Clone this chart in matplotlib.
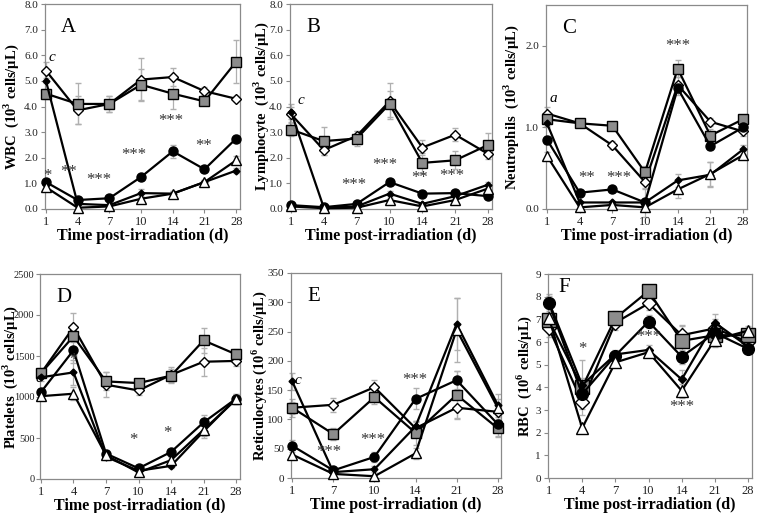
#%% import packages
import numpy as np
import matplotlib
matplotlib.use('Agg')
import matplotlib.pyplot as plt
from matplotlib.ticker import FormatStrFormatter

plt.rcParams['font.family'] = 'Liberation Serif'
plt.rcParams['mathtext.fontset'] = 'custom'
plt.rcParams['mathtext.rm'] = 'Liberation Serif'
plt.rcParams['mathtext.bf'] = 'Liberation Serif:bold'

#%% data
days_7 = ['1', '4', '7', '10', '14', '21', '28']
days_6 = ['1', '7', '10', '14', '21', '28']

# WBC
wbc_odia = [5.4, 3.85, 4.1, 5.05, 5.15, 4.6, 4.3]
wbc_sq = [4.5, 4.1, 4.1, 4.85, 4.5, 4.2, 5.75]
wbc_circ = [1.05, 0.35, 0.42, 1.25, 2.25, 1.55, 2.75]
wbc_bdia = [5.0, 0.2, 0.15, 0.62, 0.6, 1.05, 1.5]
wbc_tri = [0.85, 0.05, 0.1, 0.4, 0.6, 1.05, 1.9]
wbc_err = [[0.35, 0.55, 0.3, 0.85, 0.35, 0.15, 0.1],
           [0.2, 0.8, 0.3, 0.6, 0.6, 0.15, 0.85],
           [0.1, 0.05, 0.05, 0.1, 0.25, 0.1, 0.15],
           [0.1, 0.05, 0.05, 0.15, 0.1, 0.1, 0.1],
           [0.1, 0.03, 0.03, 0.1, 0.1, 0.1, 0.15]]

# Lymphocyte
lym_odia = [3.7, 2.3, 2.85, 4.2, 2.4, 2.9, 2.15]
lym_sq = [3.1, 2.65, 2.75, 4.1, 1.8, 1.9, 2.5]
lym_circ = [0.15, 0.07, 0.2, 1.05, 0.6, 0.62, 0.5]
lym_bdia = [3.8, 0.05, 0.1, 0.6, 0.2, 0.5, 0.95]
lym_tri = [0.1, 0.03, 0.05, 0.35, 0.1, 0.35, 0.8]
lym_err = [[0.3, 0.2, 0.2, 0.7, 0.3, 0.25, 0.2],
           [0.25, 0.55, 0.3, 0.5, 0.4, 0.35, 0.45],
           [0.05, 0.03, 0.05, 0.1, 0.08, 0.08, 0.08],
           [0.3, 0.03, 0.05, 0.1, 0.05, 0.1, 0.1],
           [0.03, 0.02, 0.03, 0.08, 0.05, 0.08, 0.1]]

# Neutrophils
neu_odia = [1.17, 1.05, 0.78, 0.33, 1.52, 1.07, 0.95]
neu_sq = [1.1, 1.05, 1.02, 0.45, 1.72, 0.9, 1.1]
neu_circ = [0.85, 0.2, 0.24, 0.08, 1.48, 0.77, 1.0]
neu_bdia = [1.05, 0.08, 0.08, 0.08, 0.35, 0.42, 0.73]
neu_tri = [0.65, 0.02, 0.05, 0.02, 0.24, 0.43, 0.66]
neu_err = [[0.08, 0.05, 0.05, 0.08, 0.1, 0.05, 0.05],
           [0.08, 0.05, 0.05, 0.08, 0.1, 0.08, 0.05],
           [0.05, 0.03, 0.03, 0.03, 0.08, 0.05, 0.05],
           [0.05, 0.02, 0.02, 0.18, 0.08, 0.15, 0.05],
           [0.05, 0.02, 0.02, 0.02, 0.1, 0.15, 0.05]]

# Platelets
plt_odia = [1290, 1850, 1150, 1080, 1270, 1430, 1440]
plt_sq = [1290, 1740, 1190, 1170, 1260, 1690, 1520]
plt_circ = [1060, 1570, 310, 130, 330, 690, 980]
plt_bdia = [1240, 1300, 270, 100, 160, 580, 980]
plt_tri = [1010, 1040, 290, 80, 230, 600, 970]
plt_err = [[60, 180, 150, 60, 100, 170, 60],
           [50, 60, 110, 50, 80, 150, 60],
           [40, 160, 40, 30, 40, 90, 60],
           [40, 150, 40, 30, 30, 80, 60],
           [40, 80, 40, 20, 40, 70, 60]]

# Reticulocytes
ret_odia = [120, 125, 155, 85, 120, 113]
ret_sq = [120, 75, 138, 77, 142, 85]
ret_circ = [55, 13, 36, 135, 167, 92]
ret_bdia = [165, 10, 15, 88, 263, 125]
ret_tri = [40, 7, 3, 42, 253, 120]
ret_err = [[10, 12, 12, 10, 20, 15],
           [15, 10, 12, 20, 40, 15],
           [10, 5, 8, 18, 15, 20],
           [15, 3, 5, 10, 45, 18],
           [8, 3, 2, 10, 55, 15]]

# RBC
rbc_odia = [6.6, 3.35, 6.85, 7.7, 6.3, 6.6, 6.0]
rbc_sq = [6.95, 4.0, 7.05, 8.25, 6.05, 6.3, 6.3]
rbc_circ = [7.7, 3.7, 5.4, 6.9, 5.35, 6.4, 5.7]
rbc_bdia = [7.75, 4.1, 5.45, 5.65, 4.35, 6.85, 5.8]
rbc_tri = [7.05, 2.2, 5.1, 5.55, 3.85, 6.1, 6.5]
rbc_err = [[0.4, 0.3, 0.3, 0.3, 0.4, 0.4, 0.2],
           [0.3, 1.2, 0.3, 0.2, 0.7, 0.4, 0.3],
           [0.4, 0.3, 0.2, 0.3, 0.3, 0.3, 0.2],
           [0.3, 0.3, 0.2, 0.2, 0.4, 0.4, 0.2],
           [0.3, 0.2, 0.2, 0.2, 0.3, 0.3, 0.2]]

#%% styles: open diamond, gray square, black circle, black diamond, open triangle
styles = [dict(marker='D', mfc='white', ms=5.5),
          dict(marker='s', mfc='#8c8c8c', ms=7.5),
          dict(marker='o', mfc='black', ms=6.5),
          dict(marker='D', mfc='black', ms=3.5),
          dict(marker='^', mfc='white', ms=7)]


def px_axes(fig, l, r, t, b):
    W, H = 758., 513.
    return fig.add_axes([l / W, 1 - b / H, (r - l) / W, (b - t) / H])


def panel(ax, days, series, errs, ylim, ystep, fmt, ylabel, letter, labx,
          msc=1.0, ysize=8, ypad=2):
    x = np.arange(len(days))
    for s, e, st in zip(series, errs, styles):
        ax.errorbar(x, s, yerr=e, fmt='none', ecolor='#b0b0b0', elinewidth=0.9,
                    capsize=2, zorder=1, clip_on=False)
    for s, st in zip(series, styles):
        ax.plot(x, s, color='black', lw=1.6, marker=st['marker'], mfc=st['mfc'],
                mec='black', mew=1.0, ms=st['ms'] * msc, zorder=3, clip_on=False)
    ax.set_xlim(-0.03, len(days) - 1 + 0.12)
    ax.set_ylim(ylim)
    ax.set_yticks(np.arange(ylim[0], ylim[1] + ystep / 2, ystep))
    ax.yaxis.set_major_formatter(FormatStrFormatter(fmt))
    ax.set_xticks(x)
    ax.set_xticklabels(days)
    for sp in ax.spines.values():
        sp.set_color('#8a8a8a')
        sp.set_linewidth(0.9)
    ax.tick_params(axis='both', color='#8a8a8a', length=3,
                   width=0.8, pad=2, labelcolor='#222222')
    ax.tick_params(axis='y', labelsize=ysize, pad=ypad)
    ax.tick_params(axis='x', labelsize=9)
    ax.set_xlabel('Time post-irradiation (d)', fontsize=11.5, fontweight='bold',
                  labelpad=0)
    ax.set_ylabel(ylabel, fontsize=10.5, fontweight='bold')
    ax.yaxis.set_label_coords(labx, 0.5)
    ax.text(0.08, 0.93, letter, transform=ax.transAxes, fontsize=15,
            va='top', ha='left')


def star(ax, x, y, s, size=12):
    ax.text(x, y, s, fontsize=size, color='#333333', ha='center', va='center')


def italic(ax, x, y, s):
    ax.text(x, y, s, fontsize=11, style='italic', ha='center', va='center')


#%% figure
fig = plt.figure(figsize=(7.58, 5.13), dpi=100)

axA = px_axes(fig, 45, 240, 4, 209)
panel(axA, days_7, [wbc_odia, wbc_sq, wbc_circ, wbc_bdia, wbc_tri], wbc_err,
      (0, 8), 1.0, '%.1f', r'WBC  (10$^{\mathbf{3}}$ cells/μL)', 'A', -0.125)
italic(axA, 0.2, 5.9, 'c')
star(axA, 0.05, 1.3, '*')
star(axA, 0.7, 1.45, '**')
star(axA, 1.67, 1.15, '***')
star(axA, 2.77, 2.1, '***')
star(axA, 3.93, 3.45, '***')
star(axA, 4.97, 2.45, '**')

axB = px_axes(fig, 290, 492, 4, 209)
panel(axB, days_7, [lym_odia, lym_sq, lym_circ, lym_bdia, lym_tri], lym_err,
      (0, 8), 1.0, '%.1f', r'Lymphocyte  (10$^{\mathbf{3}}$ cells/μL)', 'B', -0.095)
italic(axB, 0.3, 4.25, 'c')
star(axB, 1.9, 0.95, '***')
star(axB, 2.85, 1.7, '***')
star(axB, 3.9, 1.2, '**')
star(axB, 4.9, 1.3, '***')

axC = px_axes(fig, 546, 747, 5, 209)
panel(axC, days_7, [neu_odia, neu_sq, neu_circ, neu_bdia, neu_tri], neu_err,
      (0, 2.5), 1.0, '%.1f', r'Neutrophils  (10$^{\mathbf{3}}$ cells/μL)', 'C', -0.125)
axC.set_yticks([0, 1.0, 2.0])
axC.set_ylim(0, 2.5)
italic(axC, 0.2, 1.35, 'a')
star(axC, 1.2, 0.38, '**')
star(axC, 2.2, 0.38, '***')
star(axC, 4.0, 2.0, '***')

axD = px_axes(fig, 40, 240, 274, 479)
panel(axD, days_7, [plt_odia, plt_sq, plt_circ, plt_bdia, plt_tri], plt_err,
      (0, 2500), 500, '%d', r'Platelets  (10$^{\mathbf{3}}$ cells/μL)', 'D', -0.10,
      ysize=7.5, ypad=1)
italic(axD, -0.05, 1230, 'c')
star(axD, 1.0, 1450, '*')
star(axD, 2.85, 480, '*')
star(axD, 3.9, 560, '*')

axE = px_axes(fig, 291, 501, 273, 478)
panel(axE, days_6, [ret_odia, ret_sq, ret_circ, ret_bdia, ret_tri], ret_err,
      (0, 350), 50, '%d', r'Reticulocytes (10$^{\mathbf{6}}$ cells/μL)', 'E', -0.105)
axE.set_xlim(-0.03, 5.08)
italic(axE, 0.15, 166, 'c')
star(axE, 0.88, 45, '***')
star(axE, 1.96, 65, '***')
star(axE, 2.97, 168, '***')

axF = px_axes(fig, 548, 752, 274, 478)
panel(axF, days_7, [rbc_odia, rbc_sq, rbc_circ, rbc_bdia, rbc_tri], rbc_err,
      (0, 9), 1, '%d', r'RBC  (10$^{\mathbf{6}}$ cells/μL)', 'F', -0.07, msc=1.3)
axF.texts[-1].set_position((0.05, 0.98))
star(axF, 1.0, 5.7, '*')
star(axF, 3.0, 6.2, '***')
star(axF, 4.0, 3.15, '***')

fig.savefig('out.png', dpi=100)
